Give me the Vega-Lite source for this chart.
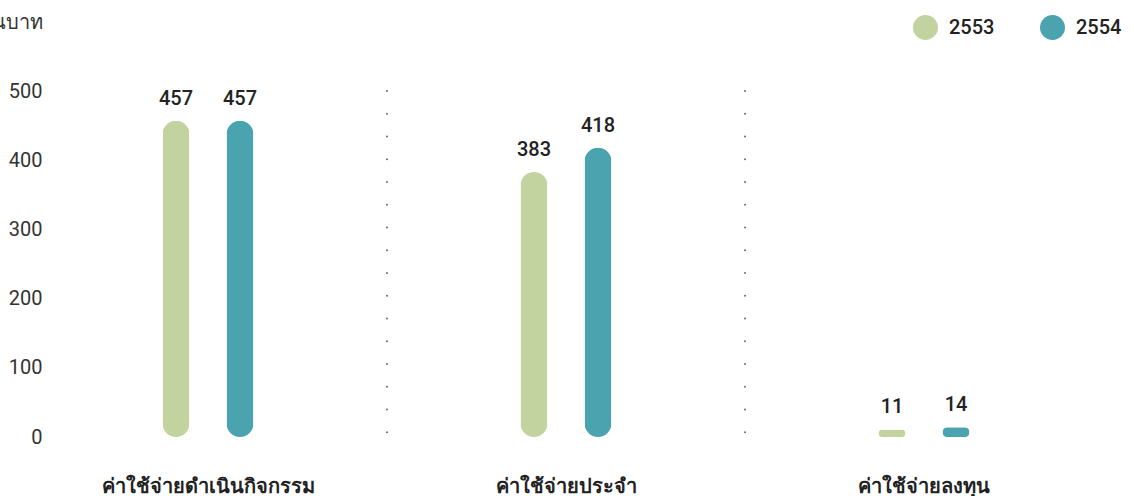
{
  "$schema": "https://vega.github.io/schema/vega-lite/v6.json",
  "width": 1074,
  "height": 346,
  "autosize": "none",
  "padding": {"left": 29, "top": 91, "right": 31, "bottom": 59},
  "background": "white",
  "config": {"view": {"stroke": null}, "font": "Roboto"},
  "data": {"values": [
    {"category": "ค่าใช้จ่ายดำเนินกิจกรรม", "year": "2553", "value": 457},
    {"category": "ค่าใช้จ่ายดำเนินกิจกรรม", "year": "2554", "value": 457},
    {"category": "ค่าใช้จ่ายประจำ", "year": "2553", "value": 383},
    {"category": "ค่าใช้จ่ายประจำ", "year": "2554", "value": 418},
    {"category": "ค่าใช้จ่ายลงทุน", "year": "2553", "value": 11},
    {"category": "ค่าใช้จ่ายลงทุน", "year": "2554", "value": 14}
  ]},
  "encoding": {
    "x": {"field": "category", "type": "nominal", "sort": null,
      "scale": {"paddingInner": 0, "paddingOuter": 0},
      "axis": {"title": null, "domain": false, "ticks": false, "labelAngle": 0, "labelFontSize": 20, "labelFontWeight": 600, "labelColor": "#222", "labelPadding": 49, "labelBaseline": "middle", "labelLimit": 400}}
  },
  "layer": [
    {
      "data": {"values": [{"category": "ค่าใช้จ่ายดำเนินกิจกรรม"}, {"category": "ค่าใช้จ่ายประจำ"}]},
      "mark": {"type": "rule", "color": "#777", "strokeWidth": 2.2, "strokeDash": [0, 22.75], "strokeCap": "round"},
      "encoding": {"x": {"field": "category", "type": "nominal", "sort": null, "bandPosition": 1}}
    },
    {
      "mark": {"type": "bar", "width": 27, "cornerRadius": 13.5},
      "encoding": {
        "xOffset": {"field": "year", "type": "nominal", "scale": {"paddingInner": 0, "paddingOuter": 0, "range": [115, 243]}},
        "y": {"field": "value", "type": "quantitative", "scale": {"domain": [0, 500]},
          "axis": {"title": "ล้านบาท", "titleAngle": 0, "titleAlign": "right", "titleBaseline": "middle", "titleX": 13, "titleY": -69, "titleFontSize": 20, "titleFontWeight": "normal", "titleColor": "#333",
            "values": [0, 100, 200, 300, 400, 500], "domain": false, "ticks": false, "tickSize": 0, "grid": false, "labelPadding": -13, "labelFontSize": 20, "labelColor": "#333"}},
        "color": {"field": "year", "type": "nominal",
          "scale": {"domain": ["2553", "2554"], "range": ["#c2d3a0", "#4aa3ae"]},
          "legend": {"title": null, "orient": "none", "legendX": 884, "legendY": -76, "direction": "horizontal", "symbolType": "circle", "symbolSize": 625, "symbolStrokeWidth": 0, "labelFontSize": 20, "labelFontWeight": 500, "labelColor": "#222", "labelOffset": 11, "columnPadding": 45, "labelLimit": 200}}
      }
    },
    {
      "mark": {"type": "text", "baseline": "middle", "dy": -22, "fontSize": 20, "fontWeight": 500, "color": "#222"},
      "encoding": {
        "xOffset": {"field": "year", "type": "nominal", "scale": {"paddingInner": 0, "paddingOuter": 0, "range": [115, 243]}},
        "y": {"field": "value", "type": "quantitative"},
        "text": {"field": "value", "type": "quantitative"}
      }
    }
  ]
}
